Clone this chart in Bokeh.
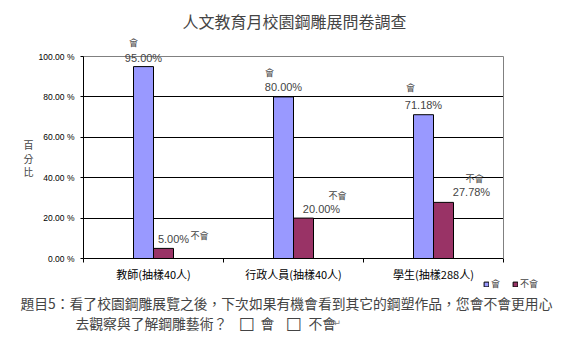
from bokeh.plotting import figure
from bokeh.models import (Range1d, FixedTicker, Label, Legend, LegendItem, ColumnDataSource,
                          LinearAxis, Grid)
from bokeh.transform import dodge
from bokeh.embed import file_html
from bokeh.resources import INLINE

# ---- data ----
title_text = "人文教育月校園鋼雕展問卷調查"
categories = ["教師(抽樣40人)", "行政人員(抽樣40人)", "學生(抽樣288人)"]
series_names = ["會", "不會"]
hui = [95.00, 80.00, 71.18]
buhui = [5.00, 20.00, 27.78]
y_ticks = [0, 20, 40, 60, 80, 100]
y_tick_labels = ["0.00 %", "20.00 %", "40.00 %", "60.00 %", "80.00 %", "100.00 %"]
y_axis_title = ["百", "分", "比"]
question_line1 = "題目5：看了校園鋼雕展覽之後，下次如果有機會看到其它的鋼塑作品，您會不會更用心"
question_line2 = "去觀察與了解鋼雕藝術？"
answer_options = ["會", "不會"]

CJK = "Noto Sans CJK TC"
LAT = "Liberation Sans"
BLUE = "#9999FF"
RED = "#993366"

W, H = 565, 357
# plot-area box inside the page (pixels)
PL, PR, PT, PB = 83, 503, 56, 258
n = len(categories)
ymax = y_ticks[-1]
xs = (PR - PL) / n          # px per category
ys = (PB - PT) / ymax       # px per percent

centers = [i + 0.5 for i in range(n)]
src = ColumnDataSource(dict(x=centers, hui=hui, buhui=buhui))

# The frame covers the whole page; axes are pinned with fixed_location so that
# every annotation (title, question, legend) can live inside the frame.
p = figure(width=W, height=H, output_backend="svg", toolbar_location=None,
           x_range=Range1d(-PL / xs, n + (W - PR) / xs),
           y_range=Range1d(-(H - PB) / ys, ymax + PT / ys),
           min_border_left=0, min_border_right=0, min_border_top=0, min_border_bottom=0)
p.background_fill_color = "white"
p.border_fill_color = "white"
p.outline_line_color = None

bw = 1 / 7
r1 = p.vbar(x=dodge("x", -bw / 2), top="hui", width=bw, source=src,
            fill_color=BLUE, line_color="black", line_width=1)
r2 = p.vbar(x=dodge("x", bw / 2), top="buhui", width=bw, source=src,
            fill_color=RED, line_color="black", line_width=1)

# grid lines limited to the plot area
p.xgrid.visible = False
p.ygrid.ticker = FixedTicker(ticks=y_ticks[1:-1])
p.ygrid.grid_line_color = "black"
p.ygrid.grid_line_width = 1
p.ygrid.cross_bounds = (0, n)
p.add_layout(Grid(dimension=1, ticker=FixedTicker(ticks=[ymax]), cross_bounds=(0, n),
                  grid_line_color="#808080", grid_line_width=1))

# y axis
p.yaxis.fixed_location = 0
p.yaxis.ticker = FixedTicker(ticks=y_ticks)
p.yaxis.bounds = (0, ymax)
p.yaxis.major_label_overrides = {t: l for t, l in zip(y_ticks, y_tick_labels)}
p.yaxis.major_label_text_font = LAT
p.yaxis.major_label_text_font_size = "8.5px"
p.yaxis.major_label_text_color = "black"
p.yaxis.axis_line_color = "black"
p.yaxis.major_tick_in = 0
p.yaxis.major_tick_out = 3
p.yaxis.minor_tick_line_color = None
p.yaxis.major_label_standoff = 6

# right border as a bare axis line
p.add_layout(LinearAxis(fixed_location=n, bounds=(0, ymax), axis_line_color="#808080",
                        ticker=FixedTicker(ticks=[]), major_tick_line_color=None,
                        minor_tick_line_color=None, major_label_text_font_size="1px"), "right")

# x axis
p.xaxis.fixed_location = 0
p.xaxis.bounds = (0, n)
p.xaxis.ticker = FixedTicker(ticks=centers, minor_ticks=list(range(n + 1)))
p.xaxis.major_label_overrides = {c: l for c, l in zip(centers, categories)}
p.xaxis.major_label_text_font = CJK
p.xaxis.major_label_text_font_size = "11px"
p.xaxis.major_label_text_color = "black"
p.xaxis.axis_line_color = "black"
p.xaxis.major_tick_in = 0
p.xaxis.major_tick_out = 0
p.xaxis.minor_tick_in = 0
p.xaxis.minor_tick_out = 4
p.xaxis.minor_tick_line_color = "black"
p.xaxis.major_label_standoff = 3

# data labels
blue_val_dx = [0, 0, 0]
blue_val_dy = [9, 10, 10]
blue_name_dx = [-10, -14, -13]
blue_name_dy = [24, 24, 27]
red_val_dx = [10, 18, 28]
red_val_dy = [9, 9, 10]
red_name_dx = [36, 34, 31]
red_name_dy = [13, 23, 24]
for i, c in enumerate(centers):
    xb = c - bw / 2
    xr = c + bw / 2
    p.add_layout(Label(x=xb, y=hui[i], text=f"{hui[i]:.2f}%", x_offset=blue_val_dx[i], y_offset=blue_val_dy[i],
                       text_font=LAT, text_font_size="11px", text_align="center", text_baseline="middle"))
    p.add_layout(Label(x=xb, y=hui[i], text=series_names[0], x_offset=blue_name_dx[i], y_offset=blue_name_dy[i],
                       text_font=CJK, text_font_size="9px", text_align="center", text_baseline="middle"))
    p.add_layout(Label(x=xr, y=buhui[i], text=f"{buhui[i]:.2f}%", x_offset=red_val_dx[i], y_offset=red_val_dy[i],
                       text_font=LAT, text_font_size="11px", text_align="center", text_baseline="middle"))
    p.add_layout(Label(x=xr, y=buhui[i], text=series_names[1], x_offset=red_name_dx[i], y_offset=red_name_dy[i],
                       text_font=CJK, text_font_size="9px", text_align="center", text_baseline="middle"))

# chart title
p.add_layout(Label(x=294, y=H - 20, x_units="screen", y_units="screen", text=title_text,
                   text_font=CJK, text_font_size="16px", text_align="center", text_baseline="middle"))

# y axis title, one character per line
for k, ch in enumerate(y_axis_title):
    p.add_layout(Label(x=28, y=H - 144 - 13.5 * k, x_units="screen", y_units="screen", text=ch,
                       text_font=CJK, text_font_size="10px", text_align="center", text_baseline="middle"))

# legend
legend = Legend(items=[LegendItem(label=series_names[0], renderers=[r1]),
                       LegendItem(label=series_names[1], renderers=[r2])],
                orientation="horizontal", location=(483, H - 290))
legend.border_line_color = None
legend.background_fill_alpha = 0
legend.padding = 0
legend.margin = 0
legend.spacing = 12
legend.glyph_width = 6
legend.glyph_height = 6
legend.label_standoff = 2
legend.label_width = 0
legend.label_text_font = CJK
legend.label_text_font_size = "9px"
legend.label_height = 9
p.add_layout(legend)

# question text
p.add_layout(Label(x=20, y=H - 302, x_units="screen", y_units="screen", text=question_line1,
                   text_font=CJK, text_font_size="13.8px", text_align="left", text_baseline="middle"))
p.add_layout(Label(x=75, y=H - 322, x_units="screen", y_units="screen", text=question_line2,
                   text_font=CJK, text_font_size="13.8px", text_align="left", text_baseline="middle"))
box_x = [246, 293]
opt_x = [260, 308]
for bx, ox, opt in zip(box_x, opt_x, answer_options):
    p.add_layout(Label(x=bx, y=H - 322, x_units="screen", y_units="screen", text="□",
                       text_font="DejaVu Sans", text_font_size="17px", text_font_style="bold",
                       text_align="center", text_baseline="middle"))
    p.add_layout(Label(x=ox, y=H - 322, x_units="screen", y_units="screen", text=opt,
                       text_font=CJK, text_font_size="13.8px", text_align="left", text_baseline="middle"))
p.add_layout(Label(x=333, y=H - 322, x_units="screen", y_units="screen", text="↵",
                   text_font="DejaVu Sans", text_font_size="9px", text_color="#808080",
                   text_align="left", text_baseline="middle"))

open("out.html", "w").write(file_html(p, INLINE))
